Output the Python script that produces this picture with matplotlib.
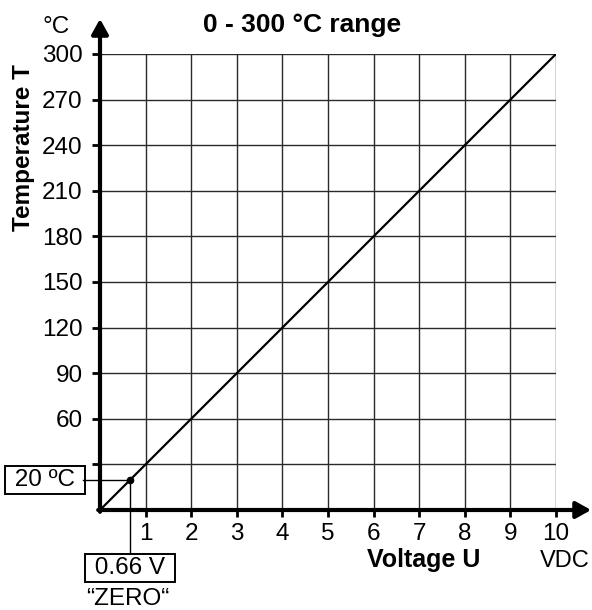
import matplotlib
matplotlib.use("Agg")
import matplotlib.pyplot as plt

plt.rcParams['font.family'] = ['Liberation Sans', 'DejaVu Sans']

x_ticks = [1, 2, 3, 4, 5, 6, 7, 8, 9, 10]
y_ticks = [30, 60, 90, 120, 150, 180, 210, 240, 270, 300]
y_tick_labels = ['', '60', '90', '120', '150', '180', '210', '240', '270', '300']
line_x = [0, 10]
line_y = [0, 300]
zero_v = 0.66
zero_t = 20

W, H = 592, 610
fig = plt.figure(figsize=(W / 100, H / 100), dpi=100)
ax = fig.add_axes([100 / W, 100 / H, 456 / W, 456 / H])
ax.set_xlim(0, 10)
ax.set_ylim(0, 300)
for s in ax.spines.values():
    s.set_visible(False)

for xv in x_ticks:
    ax.axvline(xv, color='#2a2a2a', lw=1.0, zorder=1)
for yv in y_ticks:
    ax.axhline(yv, color='#2a2a2a', lw=1.0, zorder=1)

ax.plot(line_x, line_y, color='black', lw=1.6, zorder=3)

ax.set_xticks(x_ticks)
ax.set_xticklabels([str(v) for v in x_ticks], fontsize=17.5)
ax.set_yticks(y_ticks)
ax.set_yticklabels(y_tick_labels, fontsize=17.5)
ax.tick_params(axis='x', direction='out', length=5, width=2, color='black', pad=4)
ax.tick_params(axis='y', direction='out', length=6, width=2, color='black', pad=6.5)

# axes arrows
arrow_style = '-|>,head_length=0.9,head_width=0.5'
ax.annotate('', xy=(1.077, 0), xytext=(-0.004, 0), xycoords='axes fraction',
            arrowprops=dict(arrowstyle=arrow_style, lw=3, color='black',
                            shrinkA=0, shrinkB=0), annotation_clip=False, zorder=5)
ax.annotate('', xy=(0, 1.077), xytext=(0, -0.004), xycoords='axes fraction',
            arrowprops=dict(arrowstyle=arrow_style, lw=3, color='black',
                            shrinkA=0, shrinkB=0), annotation_clip=False, zorder=5)

# zero point
ax.plot([zero_v], [zero_t], 'o', color='black', ms=4.5, zorder=4)
ax.plot([-0.37, zero_v], [zero_t, zero_t], color='black', lw=1.0, clip_on=False, zorder=4)
ax.plot([zero_v, zero_v], [zero_t, -28.3], color='black', lw=1.0, clip_on=False, zorder=4)

box = dict(boxstyle='square,pad=0.12', fc='white', ec='black', lw=1.4)
ax.text(-1.2, zero_t, ' 20 ºC ', ha='center', va='center', fontsize=17.5, clip_on=False, bbox=box)
ax.text(zero_v, -38.2, ' 0.66 V ', ha='center', va='center', fontsize=17.5, clip_on=False, bbox=box)
ax.text(zero_v - 0.05, -58.5, '\u201cZERO\u201c', ha='center', va='center', fontsize=17.5, clip_on=False)

fig.text(302 / W, 1 - 32 / H, '0 - 300 °C range', ha='center', va='baseline', fontsize=19, fontweight='bold')
fig.text(56 / W, 1 - 33 / H, '°C', ha='center', va='baseline', fontsize=17.5)
fig.text(24 / W, 1 - 148 / H, 'Temperature T', ha='center', va='center', fontsize=17.5,
         fontweight='bold', rotation=90)
fig.text(424 / W, 1 - 567 / H, 'Voltage U', ha='center', va='baseline', fontsize=18, fontweight='bold')
fig.text(565 / W, 1 - 567 / H, 'VDC', ha='center', va='baseline', fontsize=17)

fig.savefig('out.png', dpi=100)
